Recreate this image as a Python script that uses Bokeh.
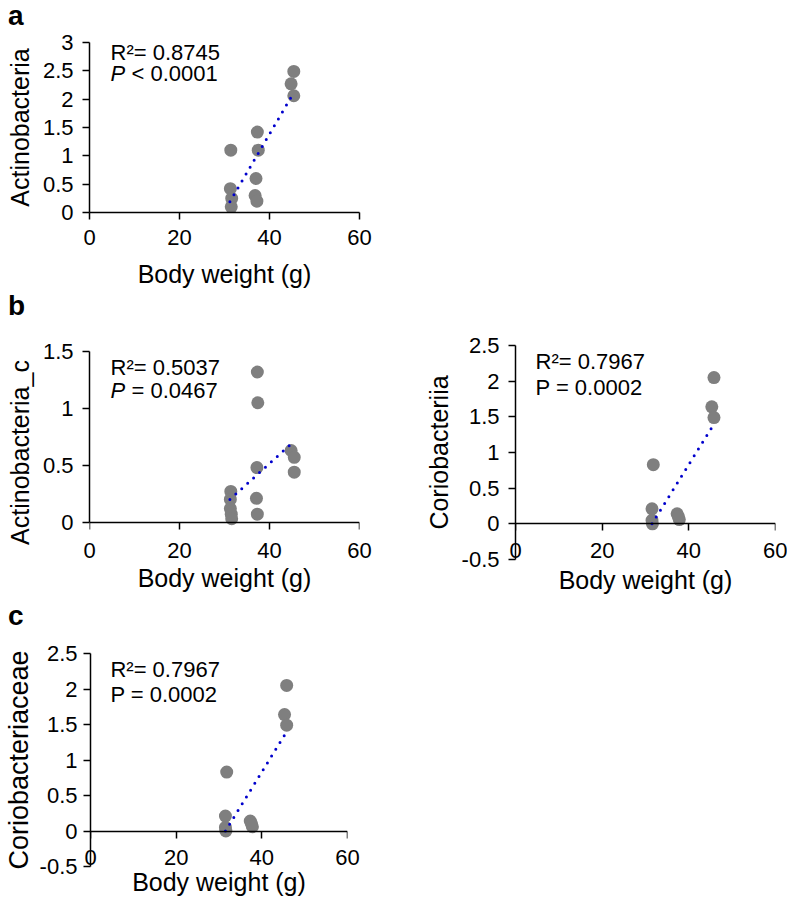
from bokeh.plotting import figure
from bokeh.models import Label, FixedTicker, NumeralTickFormatter, Range1d, LinearAxis, Div
from bokeh.layouts import column, row
from bokeh.embed import file_html
from bokeh.resources import INLINE

FONT = "Liberation Sans"
POINT_COLOR = "#7f7f7f"
FIT_COLOR = "#0000cc"

# ---------------- data ----------------
x_ticks = [0, 20, 40, 60]
x_title = "Body weight (g)"

# a: Actinobacteria
act_x = [31.4, 31.3, 31.6, 31.5, 37.3, 37.5, 37.0, 36.8, 37.2, 44.8, 45.4, 45.4]
act_y = [1.10, 0.42, 0.25, 0.10, 1.42, 1.10, 0.60, 0.30, 0.20, 2.27, 2.49, 2.06]
act_fit_x = [31.2, 45.2]
act_fit_y = [0.19, 2.09]
act_yticks = [0, 0.5, 1, 1.5, 2, 2.5, 3]

# b (left): Actinobacteria_c
actc_x = [31.4, 31.3, 31.3, 31.5, 31.6, 37.3, 37.4, 37.2, 37.1, 37.3, 44.8, 45.5, 45.5]
actc_y = [0.27, 0.20, 0.12, 0.07, 0.03, 1.32, 1.05, 0.48, 0.21, 0.07, 0.63, 0.57, 0.44]
actc_fit_x = [31.2, 45.4]
actc_fit_y = [0.20, 0.71]
actc_yticks = [0, 0.5, 1, 1.5]

# b (right) and c: Coriobacteriia / Coriobacteriaceae
cor_x = [31.8, 31.5, 31.5, 31.6, 37.3, 37.8, 37.6, 45.3, 45.8, 45.8]
cor_y = [0.83, 0.21, 0.05, 0.00, 0.14, 0.06, 0.10, 1.64, 2.05, 1.49]
cor_fit_x = [31.5, 45.8]
cor_fit_y = [0.00, 1.40]
cor_yticks = [-0.5, 0, 0.5, 1, 1.5, 2, 2.5]


def style_axis(ax):
    ax.axis_line_width = 1.5
    ax.axis_line_color = "black"
    ax.major_tick_line_width = 1.5
    ax.major_tick_line_color = "black"
    ax.major_tick_out = 7
    ax.major_tick_in = 0
    ax.minor_tick_line_color = None
    ax.major_label_text_font = FONT
    ax.major_label_text_font_size = "22px"
    ax.major_label_text_color = "black"
    ax.axis_label_text_font = FONT
    ax.axis_label_text_font_size = "25px"
    ax.axis_label_text_font_style = "normal"
    ax.axis_label_text_color = "black"


def make_panel(width, height, borders, xr, yr, xs, ys, fx, fy, yticks, ylabel,
               cross_zero=False, ybounds=None, ytick_stand=9, ylab_stand=6,
               xtick_stand=10, xlab_stand=6, ylab_size="25px"):
    left, right, top, bottom = borders
    p = figure(width=width, height=height, output_backend="svg", toolbar_location=None,
               x_range=Range1d(*xr), y_range=Range1d(*yr),
               min_border_left=left, min_border_right=right,
               min_border_top=top, min_border_bottom=bottom)
    p.outline_line_color = None
    p.grid.visible = False
    p.background_fill_color = "white"
    p.border_fill_color = "white"
    p.scatter(xs, ys, size=13, fill_color=POINT_COLOR, line_color=None)
    p.line(fx, fy, line_color=FIT_COLOR, line_width=3, line_dash="0 8", line_cap="round")

    xa = p.xaxis[0]
    ya = p.yaxis[0]
    for ax in (xa, ya):
        style_axis(ax)
    xa.ticker = FixedTicker(ticks=x_ticks, minor_ticks=[])
    ya.ticker = FixedTicker(ticks=yticks, minor_ticks=[])
    ya.formatter = NumeralTickFormatter(format="0.[0]")
    xa.formatter = NumeralTickFormatter(format="0")
    xa.axis_label = x_title
    ya.axis_label = ylabel
    ya.axis_label_text_font_size = ylab_size
    ya.major_label_standoff = ytick_stand
    ya.axis_label_standoff = ylab_stand
    xa.major_label_standoff = xtick_stand
    xa.axis_label_standoff = xlab_stand
    if ybounds is not None:
        ya.bounds = ybounds

    if cross_zero:
        # bottom axis keeps tick labels + title; a second axis draws line and ticks at y = 0
        xa.axis_line_color = None
        xa.major_tick_line_color = None
        xa.major_tick_out = 0
        zero_axis = LinearAxis(fixed_location=0,
                               ticker=FixedTicker(ticks=x_ticks, minor_ticks=[]))
        style_axis(zero_axis)
        zero_axis.major_label_text_font_size = "0px"
        zero_axis.major_label_text_color = None
        p.add_layout(zero_axis, "below")
    return p


def add_text(p, geom, px, py, text, size="22px", style="normal"):
    fx0, fy0, fw, fh, xr, yr = geom
    x = xr[0] + (px - fx0) / fw * (xr[1] - xr[0])
    y = yr[1] - (py - fy0) / fh * (yr[1] - yr[0])
    p.add_layout(Label(x=x, y=y, text=text, text_font=FONT, text_font_size=size,
                       text_font_style=style, text_color="black",
                       text_align="left", text_baseline="alphabetic"))


def letter(t, line_height):
    return Div(text=t, width=60, height=30, margin=(0, 0, 0, 8),
               styles={"font-family": FONT, "font-size": "28px", "font-weight": "bold",
                       "line-height": line_height, "color": "black"})


# panel a
geom_a = (89, 42, 270, 170, (0, 60), (0, 3))
pa = make_panel(400, 264, (89, 41, 12, 82), (0, 60), (0, 3), act_x, act_y,
                act_fit_x, act_fit_y, act_yticks, "Actinobacteria", xlab_stand=12)
add_text(pa, geom_a, 110, 52, "R\u00b2= 0.8745")
add_text(pa, geom_a, 110, 73, "P", style="italic")
add_text(pa, geom_a, 131, 73, "< 0.0001")

# panel b left (frame shares borders with the right panel of the row)
yr_b1 = (-0.328, 1.553)
geom_b1 = (89, 345, 270, 214, (0, 60), yr_b1)
pb1 = make_panel(420, 280, (89, 61, 21, 45), (0, 60), yr_b1, actc_x, actc_y,
                 actc_fit_x, actc_fit_y, actc_yticks, "Actinobacteria_c",
                 cross_zero=True, ybounds=(0, 1.5), xtick_stand=-17, xlab_stand=3)
add_text(pb1, geom_b1, 110, 367, "R\u00b2= 0.5037")
add_text(pb1, geom_b1, 110, 390, "P", style="italic")
add_text(pb1, geom_b1, 131, 390, "= 0.0467")

# panel b right
geom_b2 = (515, 345, 260, 214, (0, 60), (-0.5, 2.5))
pb2 = make_panel(367, 280, (95, 12, 21, 45), (0, 60), (-0.5, 2.5), cor_x, cor_y,
                 cor_fit_x, cor_fit_y, cor_yticks, "Coriobacteriia", cross_zero=True,
                 xtick_stand=-17, xlab_stand=5)
add_text(pb2, geom_b2, 535, 361, "R\u00b2= 0.7967")
add_text(pb2, geom_b2, 535, 387, "P = 0.0002")

# panel c
geom_c = (89, 653, 258, 213, (0, 60), (-0.5, 2.5))
pc = make_panel(400, 272, (89, 53, 19, 40), (0, 60), (-0.5, 2.5), cor_x, cor_y,
                cor_fit_x, cor_fit_y, cor_yticks, "Coriobacteriaceae", cross_zero=True,
                ytick_stand=6, ylab_stand=3, xtick_stand=-17, xlab_stand=0,
                ylab_size="27px")
add_text(pc, geom_c, 109, 669, "R\u00b2= 0.7967")
add_text(pc, geom_c, 109, 694, "P = 0.0002")

layout = column(letter("a", "normal"), row(pa), letter("b", "24px"),
                row(pb1, pb2), letter("c", "24px"), row(pc))

open("out.html", "w").write(file_html(layout, INLINE))
